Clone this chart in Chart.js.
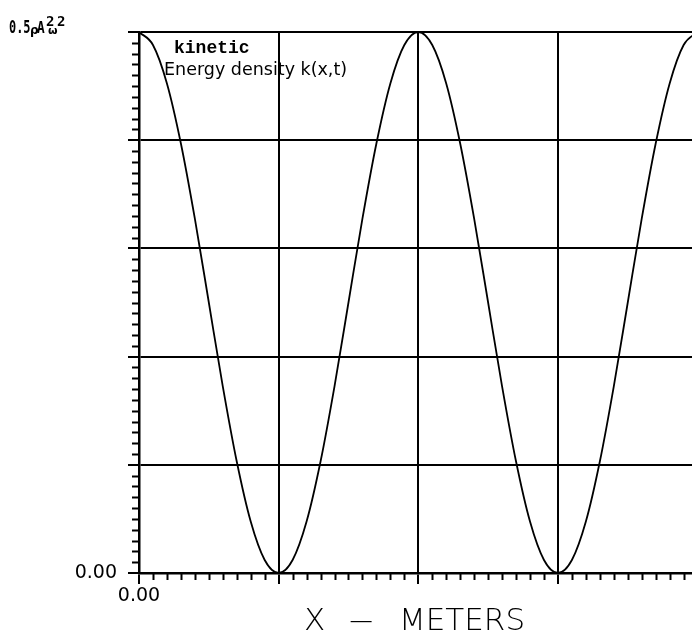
<!DOCTYPE html>
<html>
<head>
<meta charset="utf-8">
<script src="https://cdn.jsdelivr.net/npm/chart.js@4.4.1/dist/chart.umd.min.js"></script>
<style>
    html, body { margin: 0; padding: 0; background: #fff; }
    #wrap { width: 692px; height: 632px; }
</style>
</head>
<body>
<div id="wrap"><canvas id="energyChart"></canvas></div>
<script>
// Position along the string (grid units) and kinetic energy density (fraction of max)
const xValues = [
    0.0, 0.1, 0.2, 0.3, 0.4, 0.5, 0.6, 0.7, 0.8, 0.9,
    1.0, 1.1, 1.2, 1.3, 1.4, 1.5, 1.6, 1.7, 1.8, 1.9,
    2.0, 2.1, 2.2, 2.3, 2.4, 2.5, 2.6, 2.7, 2.8, 2.9,
    3.0, 3.1, 3.2, 3.3, 3.4, 3.5, 3.6, 3.7, 3.8, 3.9, 4.0
];
const kineticValues = [
    1.000, 0.976, 0.905, 0.794, 0.655, 0.500, 0.345, 0.206, 0.095, 0.024,
    0.000, 0.024, 0.095, 0.206, 0.345, 0.500, 0.655, 0.794, 0.905, 0.976,
    1.000, 0.976, 0.905, 0.794, 0.655, 0.500, 0.345, 0.206, 0.095, 0.024,
    0.000, 0.024, 0.095, 0.206, 0.345, 0.500, 0.655, 0.794, 0.905, 0.976, 1.000
];
const xTickLabels = { 0: '0.00' };
const yTickLabels = { 0: '0.00' };
const curveName = 'kinetic';
const curveTitle = 'Energy density k(x,t)';
const xAxisTitle = ['X', '\u2014', 'METERS'];

const X_MAX = 3.96;
const X_MINOR = 0.1;
const Y_MINOR = 0.02;

// small ticks between the major grid lines
const minorTicks = {
    id: 'minorTicks',
    afterDraw(chart) {
        const ctx = chart.ctx;
        const xs = chart.scales.x, ys = chart.scales.y;
        const area = chart.chartArea;
        ctx.save();
        ctx.strokeStyle = '#000';
        ctx.lineWidth = 2;
        ctx.beginPath();
        for (let i = 1; i * X_MINOR <= X_MAX; i++) {
            if (i % 10 === 0) continue;
            const px = Math.round(xs.getPixelForValue(i * X_MINOR)) + 0.5;
            ctx.moveTo(px, area.bottom);
            ctx.lineTo(px, area.bottom + 7);
        }
        for (let j = 1; j * Y_MINOR < 1; j++) {
            if (j % 10 === 0) continue;
            const py = Math.round(ys.getPixelForValue(j * Y_MINOR)) + 0.5;
            ctx.moveTo(area.left - 7, py);
            ctx.lineTo(area.left, py);
        }
        ctx.stroke();
        ctx.restore();
    }
};

// curve labels, y-axis unit and x-axis title
const labels = {
    id: 'labels',
    afterDraw(chart) {
        const ctx = chart.ctx;
        ctx.save();
        ctx.fillStyle = '#000';
        ctx.textAlign = 'left';
        ctx.textBaseline = 'alphabetic';

        ctx.font = 'bold 18px "Liberation Mono"';
        ctx.fillText(curveName, 174, 53);
        ctx.font = '17.5px "DejaVu Sans"';
        ctx.fillText(curveTitle, 164, 75);

        // 0.5 rho A^2 omega^2
        ctx.font = 'bold 17px "DejaVu Sans Mono"';
        ctx.save();
        ctx.translate(9, 33);
        ctx.scale(0.7, 1);
        ctx.fillText('0.5', 0, 0);
        ctx.restore();
        ctx.font = 'bold 12px "DejaVu Sans"';
        ctx.fillText('\u03c1', 30, 34);
        ctx.font = 'bold 16px "DejaVu Sans Mono"';
        ctx.save();
        ctx.translate(37, 33);
        ctx.scale(0.8, 1);
        ctx.fillText('A', 0, 0);
        ctx.restore();
        ctx.font = 'bold 14px "DejaVu Sans Mono"';
        ctx.fillText('2', 46, 26);
        ctx.font = 'bold 11px "DejaVu Sans"';
        ctx.fillText('\u03c9', 48, 34);
        ctx.font = 'bold 14px "DejaVu Sans Mono"';
        ctx.fillText('2', 57, 26);

        ctx.font = '200 31px "DejaVu Sans"';
        ctx.fillText(xAxisTitle[0], 304, 630);
        ctx.fillText(xAxisTitle[2], 399, 630);
        ctx.textAlign = 'center';
        ctx.save();
        ctx.translate(361, 0);
        ctx.scale(0.75, 1);
        ctx.fillText(xAxisTitle[1], 0, 630);
        ctx.restore();
        ctx.restore();
    }
};

const ctx = document.getElementById('energyChart').getContext('2d');
new Chart(ctx, {
    type: 'line',
    data: {
        datasets: [{
            label: curveTitle,
            data: xValues.map((x, i) => ({ x: x, y: kineticValues[i] })),
            borderColor: '#000',
            borderWidth: 1.8,
            pointRadius: 0,
            fill: false,
            cubicInterpolationMode: 'monotone'
        }]
    },
    options: {
        responsive: true,
        maintainAspectRatio: false,
        animation: false,
        layout: { padding: { top: 32, left: 0, right: 0, bottom: 0 } },
        plugins: {
            legend: { display: false },
            tooltip: { enabled: false }
        },
        scales: {
            x: {
                type: 'linear',
                min: 0,
                max: X_MAX,
                afterFit(scale) { scale.height = 59; },
                // keep only the whole-unit grid lines
                afterBuildTicks(scale) {
                    scale.ticks = scale.ticks.filter(t => Number.isInteger(t.value));
                },
                ticks: {
                    stepSize: 1,
                    autoSkip: false,
                    maxRotation: 0,
                    padding: 1,
                    color: '#000',
                    font: { family: 'DejaVu Sans', size: 19 },
                    callback: v => xTickLabels[v] || ''
                },
                grid: { color: '#000', lineWidth: 2, tickLength: 11 },
                border: { color: '#000', width: 2.5 }
            },
            y: {
                min: 0,
                max: 1,
                afterFit(scale) { scale.width = 139; },
                ticks: {
                    stepSize: 0.2,
                    autoSkip: false,
                    padding: 11,
                    color: '#000',
                    font: { family: 'DejaVu Sans', size: 19 },
                    callback: v => yTickLabels[v] || ''
                },
                grid: { color: '#000', lineWidth: 2, tickLength: 11 },
                border: { color: '#000', width: 2.5 }
            }
        }
    },
    plugins: [minorTicks, labels]
});
</script>
</body>
</html>
